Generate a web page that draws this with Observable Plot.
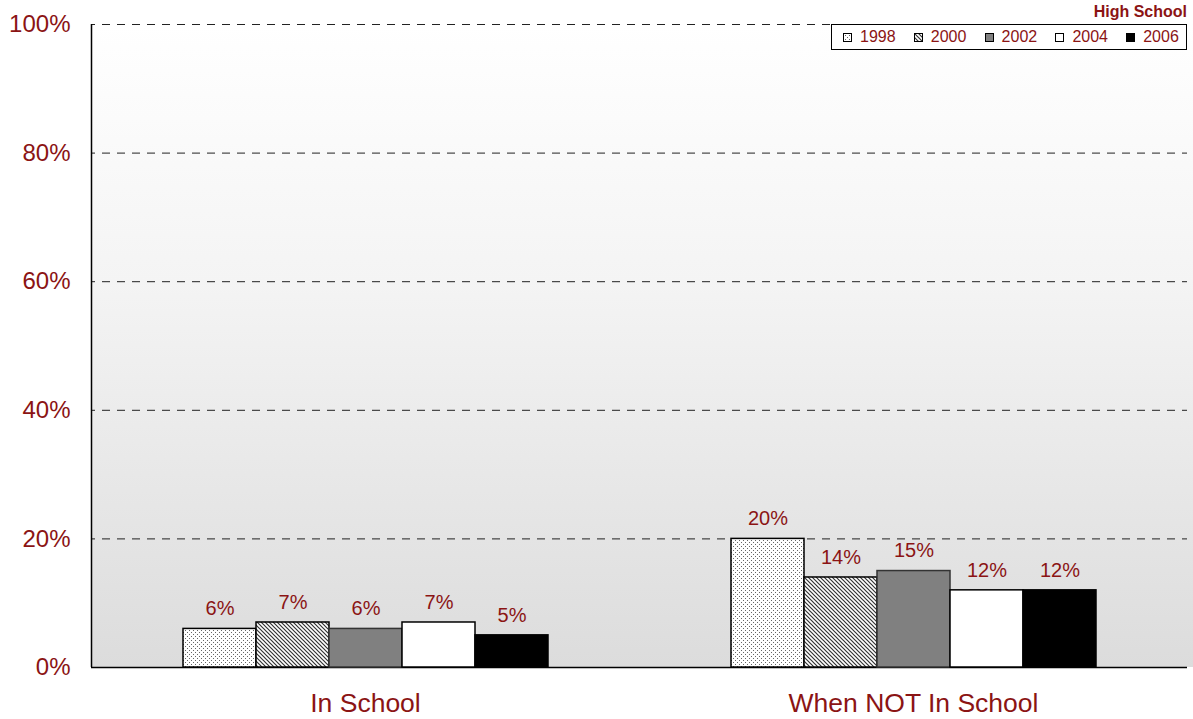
<!DOCTYPE html>
<html>
<head>
<meta charset="utf-8">
<script src="https://cdn.jsdelivr.net/npm/d3@7"></script>
<script src="https://cdn.jsdelivr.net/npm/@observablehq/plot@0.6"></script>
<style>
  html, body { margin: 0; padding: 0; background: #fff; }
  #wrap { position: relative; width: 1193px; height: 719px; font-family: Arial, "Liberation Sans", sans-serif; }
  #bg { position: absolute; left: 91px; top: 24px; width: 1102px; height: 643px;
        background: linear-gradient(to bottom, #ffffff 0%, #f4f4f4 40%, #dcdcdc 100%); }
  .layer { position: absolute; left: 0; top: 0; }
  #legendTitle { position: absolute; right: 6px; top: 3px; font-weight: bold; font-size: 16px; color: #8b1414; }
  #legend { position: absolute; left: 831px; top: 24px; width: 354px; height: 24px; border: 1.5px solid #000; background: #fff; display: flex; align-items: center; }
  .item { width: 71px; display: flex; align-items: center; padding-left: 11px; box-sizing: border-box; font-size: 16px; color: #8b1414; }
  .item svg { margin-right: 8px; }
</style>
</head>
<body>
<div id="wrap">
  <div id="bg"></div>
  <div id="gridLayer" class="layer"></div>
  <div id="barLayer" class="layer"></div>
  <div id="legendTitle">High School</div>
  <div id="legend"></div>
</div>
<script>
const categories = ["In School", "When NOT In School"];
const years = ["1998", "2000", "2002", "2004", "2006"];
const inSchool = [6, 7, 6, 7, 5];
const notInSchool = [20, 14, 15, 12, 12];
const yTicks = [0, 20, 40, 60, 80, 100];
const fills = ["url(#p1998)", "url(#p2000)", "#808080", "#ffffff", "#000000"];
const strokes = ["#000", "#000", "#333", "#000", "#000"];

const red = "#8b1414";
const data = [];
years.forEach((y, i) => data.push({cat: categories[0], year: y, value: inSchool[i]}));
years.forEach((y, i) => data.push({cat: categories[1], year: y, value: notInSchool[i]}));

const common = {
  width: 1193, height: 719,
  marginLeft: 91, marginRight: 6, marginTop: 24, marginBottom: 52,
  style: {fontFamily: "Arial, 'Liberation Sans', sans-serif", background: "transparent", overflow: "visible"}
};

// Grid / axis layer
const grid = Plot.plot({
  ...common,
  x: {domain: [0, 1], axis: null},
  y: {domain: [0, 100]},
  marks: [
    Plot.ruleY(yTicks.filter(d => d > 0), {stroke: "#222", strokeWidth: 1, strokeDasharray: "8,7", strokeDashoffset: 4}),
    Plot.axisY({ticks: yTicks, tickFormat: d => d + "%", tickSize: 0, tickPadding: 21, fontSize: 24, color: red, label: null}),
    Plot.ruleX([0], {stroke: "#000", strokeWidth: 1.5}),
    Plot.ruleY([0], {stroke: "#000", strokeWidth: 1.5})
  ]
});
document.getElementById("gridLayer").appendChild(grid);

// Bars layer
const bars = Plot.plot({
  ...common,
  fx: {domain: categories, paddingInner: 0.332, paddingOuter: 0.166, label: null},
  x: {domain: years, padding: 0, axis: null},
  y: {domain: [0, 100], axis: null},
  color: {domain: years, range: fills},
  marks: [
    Plot.axisFx({tickSize: 0, tickPadding: 26, fontSize: 26.5, color: red, label: null, anchor: "bottom"}),
    Plot.barY(data, {fx: "cat", x: "year", y: "value", fill: "year",
      stroke: d => strokes[years.indexOf(d.year)], strokeWidth: 1.5}),
    Plot.text(data, {fx: "cat", x: "year", y: "value", text: d => d.value + "%", dy: -20, fill: red, fontSize: 20})
  ]
});
document.getElementById("barLayer").appendChild(bars);

// Patterns
const defsSvg = document.createElementNS("http://www.w3.org/2000/svg", "svg");
defsSvg.setAttribute("width", 0); defsSvg.setAttribute("height", 0);
defsSvg.style.position = "absolute";
defsSvg.innerHTML = `<defs>
  <pattern id="p1998" width="4" height="4" patternUnits="userSpaceOnUse">
    <rect width="4" height="4" fill="#fff"/>
    <rect x="0" y="0" width="1" height="1" fill="#666"/>
    <rect x="2" y="2" width="1" height="1" fill="#666"/>
  </pattern>
  <pattern id="p2000" width="4" height="4" patternUnits="userSpaceOnUse">
    <rect width="4" height="4" fill="#fff"/>
    <path d="M-1,3 l2,2 M0,0 l4,4 M3,-1 l2,2" stroke="#333" stroke-width="1.2"/>
  </pattern>
</defs>`;
document.getElementById("wrap").prepend(defsSvg);

// Legend
const legend = document.getElementById("legend");
years.forEach((y, i) => {
  const it = document.createElement("div");
  it.className = "item";
  it.innerHTML = `<svg width="9" height="9"><rect x="0.5" y="0.5" width="8" height="8" fill="${fills[i]}" stroke="#000" stroke-width="1"/></svg><span>${y}</span>`;
  legend.appendChild(it);
});
</script>
</body>
</html>
